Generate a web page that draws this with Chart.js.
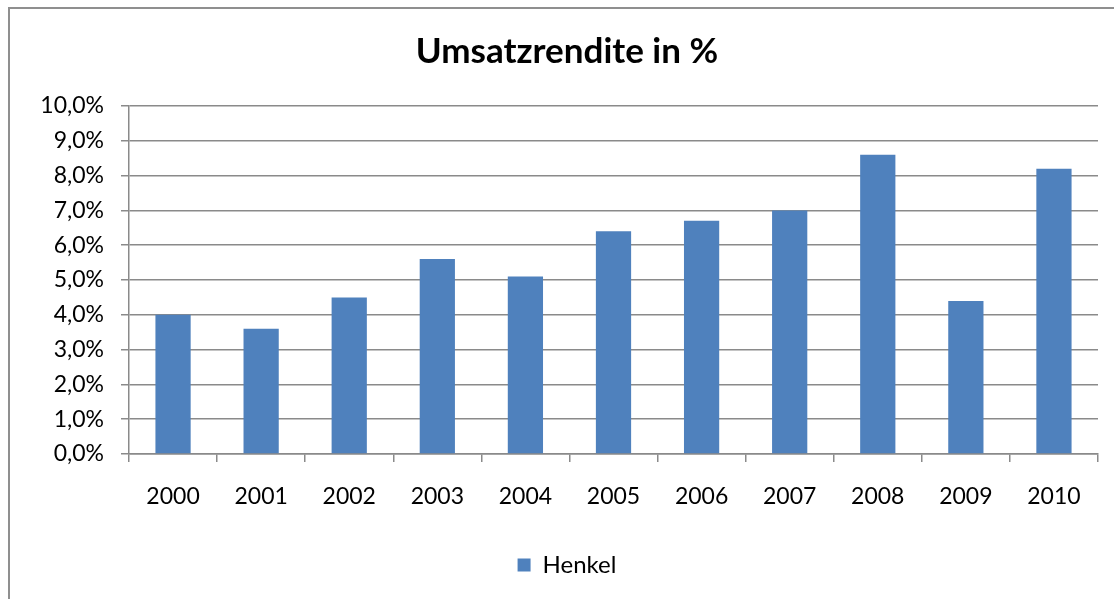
<!DOCTYPE html>
<html>
<head>
<meta charset="utf-8">
<script src="https://cdn.jsdelivr.net/npm/chart.js@4/dist/chart.umd.min.js"></script>
<style>
  html, body { margin: 0; padding: 0; background: #fff; overflow: hidden; }
  #frame {
    position: absolute; left: 8px; top: 7px; width: 1130px; height: 620px;
    border: 2px solid #8f8f8f; box-sizing: border-box;
  }
  #wrap { position: absolute; left: 36px; top: 0; width: 1078px; height: 599px; }
</style>
</head>
<body>
<div id="frame"></div>
<div id="wrap"><canvas id="chart"></canvas></div>
<script>
const years = ['2000', '2001', '2002', '2003', '2004', '2005', '2006', '2007', '2008', '2009', '2010'];
const henkel = [4.0, 3.6, 4.5, 5.6, 5.1, 6.4, 6.7, 7.0, 8.6, 4.4, 8.2];
const seriesName = 'Henkel';
const chartTitle = 'Umsatzrendite in %';

const font = 'Lato, "Open Sans", sans-serif';
const gridGray = '#8a8a8a';

const ctx = document.getElementById('chart').getContext('2d');
new Chart(ctx, {
  type: 'bar',
  data: {
    labels: years,
    datasets: [{
      label: seriesName,
      data: henkel,
      backgroundColor: '#4f81bd',
      borderWidth: 0,
      categoryPercentage: 1.0,
      barPercentage: 0.4,
    }]
  },
  options: {
    responsive: true,
    maintainAspectRatio: false,
    animation: false,
    layout: { padding: { left: 0, right: 16, top: 0, bottom: 12 } },
    plugins: {
      title: {
        display: true,
        text: chartTitle,
        color: '#000',
        font: { family: font, size: 35, weight: 'bold' },
        padding: { top: 31, bottom: 33 },
      },
      legend: {
        display: true,
        position: 'bottom',
        labels: {
          color: '#000',
          font: { family: font, size: 24 },
          boxWidth: 13,
          boxHeight: 13,
          padding: 10,
        }
      },
      tooltip: { enabled: false },
    },
    scales: {
      x: {
        afterFit: (scale) => { scale.height = 89; },
        grid: {
          drawOnChartArea: false,
          color: gridGray,
          lineWidth: 1.5,
          tickLength: 8,
          offset: true,
        },
        border: { color: gridGray, width: 1.5 },
        ticks: {
          color: '#000',
          font: { family: font, size: 23 },
          padding: 21,
          maxRotation: 0,
        },
      },
      y: {
        min: 0,
        max: 10,
        afterFit: (scale) => { scale.width = 93; },
        grid: {
          color: gridGray,
          lineWidth: 1.5,
          tickLength: 8,
        },
        border: { color: gridGray, width: 1.5 },
        ticks: {
          stepSize: 1,
          color: '#000',
          font: { family: font, size: 23 },
          padding: 17,
          callback: (v) => v.toFixed(1).replace('.', ',') + '%',
        },
      }
    }
  }
});
</script>
</body>
</html>
